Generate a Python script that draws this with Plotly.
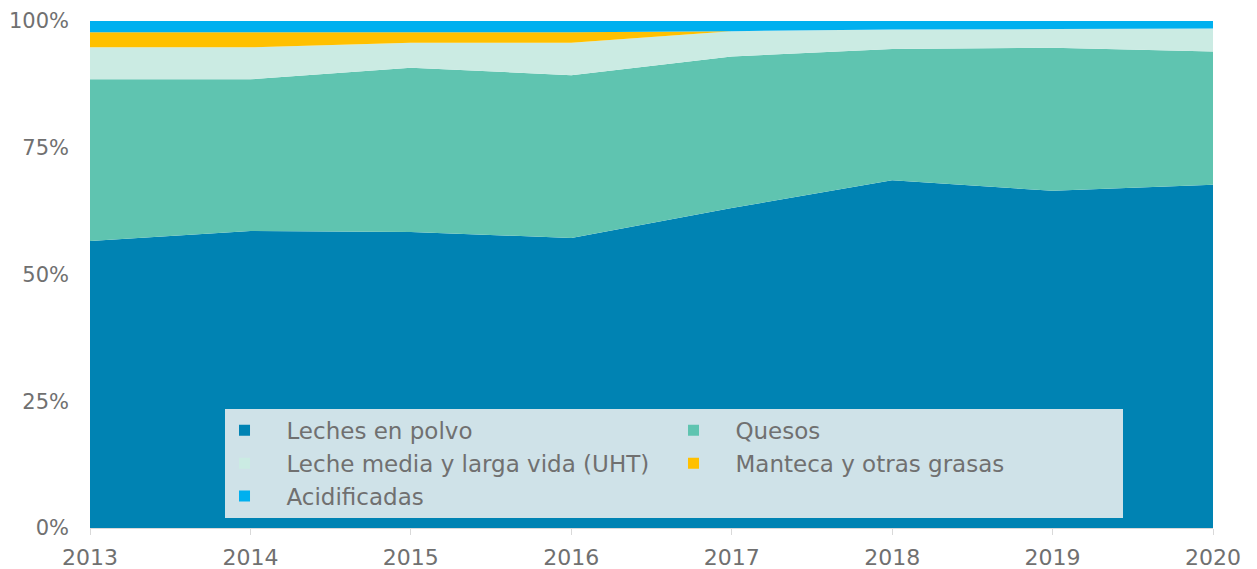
import plotly.graph_objects as go

years = [2013, 2014, 2015, 2016, 2017, 2018, 2019, 2020]
leches_polvo = [56.6, 58.6, 58.4, 57.2, 63.1, 68.6, 66.5, 67.7]
quesos = [31.9, 29.9, 32.4, 32.1, 29.9, 25.9, 28.2, 26.3]
uht = [6.3, 6.3, 4.9, 6.4, 5.0, 3.8, 3.7, 4.5]
manteca = [3.0, 3.0, 2.1, 2.1, 0.0, 0.0, 0.0, 0.0]
acidificadas = [2.2, 2.2, 2.2, 2.2, 2.0, 1.7, 1.6, 1.5]
y_ticks = [0, 25, 50, 75, 100]
y_tick_labels = ["0%", "25%", "50%", "75%", "100%"]

series = [
    ("Leches en polvo", leches_polvo, "#0083B3"),
    ("Quesos", quesos, "#5FC4B0"),
    ("Leche media y larga vida (UHT)", uht, "#CBEBE3"),
    ("Manteca y otras grasas", manteca, "#FFC000"),
    ("Acidificadas", acidificadas, "#00B0EF"),
]

fig = go.Figure()
for name, vals, col in series:
    fig.add_trace(go.Scatter(
        x=years, y=vals, name=name, mode="lines", stackgroup="one",
        groupnorm="percent", line=dict(width=0, color=col), fillcolor=col,
        showlegend=False, hoverinfo="x+y+name"))
pad = "\u00a0" * 3
for name, vals, col in series:
    fig.add_trace(go.Scatter(
        x=[None], y=[None], name=pad + name, mode="markers",
        marker=dict(symbol="square", size=11, color=col), showlegend=True))

font_col = "#707070"
fam = "DejaVu Sans, sans-serif"
fig.update_layout(
    width=1249, height=561,
    margin=dict(l=82, r=44, t=13, b=41),
    paper_bgcolor="white", plot_bgcolor="white",
    font=dict(family=fam, color=font_col, size=20),
    legend=dict(
        orientation="h", x=0.5196, xanchor="center", y=0.02, yanchor="bottom",
        bgcolor="#CFE2E8", entrywidth=404, entrywidthmode="pixels",
        font=dict(size=23, color=font_col, family=fam), itemwidth=30,
        traceorder="normal", tracegroupgap=0,
    ),
    xaxis=dict(
        range=[2013, 2020], tickvals=years, ticktext=[str(y) for y in years],
        showgrid=False, zeroline=False, showline=True, linecolor="#D9D9D9",
        linewidth=1, ticks="outside", ticklen=6, tickcolor="#D9D9D9",
        ticklabelstandoff=4, automargin=False,
        tickfont=dict(size=22, color=font_col, family=fam),
    ),
    yaxis=dict(
        range=[0, 100], tickmode="array", tickvals=y_ticks, ticktext=y_tick_labels,
        showgrid=True, gridcolor="#D9D9D9", zeroline=False, showline=False,
        ticks="", ticklabelstandoff=20, automargin=False,
        tickfont=dict(size=21, color=font_col, family=fam),
    ),
)

fig.write_html("out.html")
